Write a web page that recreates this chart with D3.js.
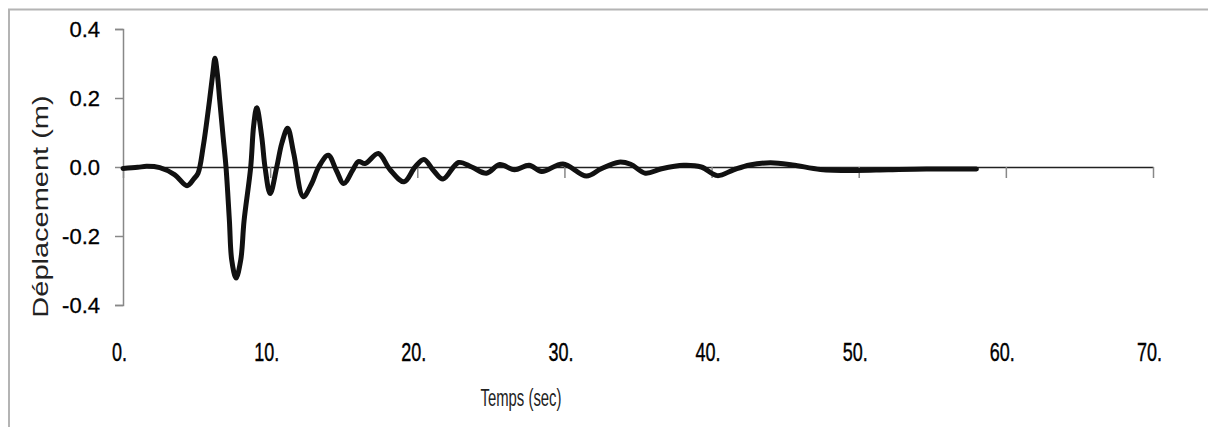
<!DOCTYPE html>
<html>
<head>
<meta charset="utf-8">
<script src="https://cdn.jsdelivr.net/npm/d3@7/dist/d3.min.js"></script>
<style>
  html, body { margin: 0; padding: 0; background: #fff; }
  svg { display: block; }
  .axis text { font-family: 'Liberation Sans', Arial, sans-serif; fill: #000; }
</style>
</head>
<body>
<div id="chart"></div>
<script>
'use strict';

// time (s) and displacement (m)
var times = [0, 1.0, 1.6, 2.5, 3.5, 4.35, 4.8, 5.1, 5.45, 5.87, 6.1, 6.25, 6.41, 6.57, 6.81,
  7.0, 7.23, 7.39, 7.68, 8.0, 8.23, 8.68, 8.88, 9.09, 9.43, 9.65, 10.0, 10.45, 10.8, 11.19,
  11.6, 12.25, 12.8, 13.3, 13.95, 14.5, 15.0, 15.6, 16.0, 16.45, 17.35, 18.15, 19.1, 19.85,
  20.45, 21.1, 21.75, 22.8, 23.7, 24.7, 25.6, 26.6, 27.6, 28.46, 29.9, 31.5, 32.5, 33.7,
  34.5, 35.5, 36.6, 38.1, 39.3, 40.4, 41.5, 42.6, 44.0, 45.5, 47.4, 49.7, 52.0, 54.6, 58.0];
var displacement = [-0.004, -0.001, 0.002, -0.002, -0.022, -0.054, -0.035, -0.018, 0.059,
  0.19, 0.27, 0.315, 0.27, 0.195, 0.085, 0.0, -0.155, -0.27, -0.322, -0.27, -0.155, 0.0,
  0.12, 0.172, 0.087, 0.0, -0.077, 0.0, 0.07, 0.112, 0.04, -0.086, -0.05, 0.0, 0.034,
  -0.01, -0.048, -0.01, 0.016, 0.01, 0.039, -0.008, -0.043, 0.0, 0.022, -0.01, -0.035,
  0.013, 0.0, -0.018, 0.007, -0.008, 0.005, -0.013, 0.009, -0.026, -0.005, 0.014, 0.008,
  -0.018, -0.005, 0.005, 0.0, -0.025, -0.008, 0.006, 0.012, 0.006, -0.007, -0.01, -0.008,
  -0.006, -0.006];

var xTicks = [0, 10, 20, 30, 40, 50, 60, 70];
var yTicks = [-0.4, -0.2, 0.0, 0.2, 0.4];
var xTitle = 'Temps (sec)';
var yTitle = 'Déplacement (m)';

var width = 1208, height = 427;

var svg = d3.select('#chart').append('svg')
  .attr('width', width)
  .attr('height', height);

// chart area border (runs off the right and bottom edges)
svg.append('rect')
  .attr('x', 9)
  .attr('y', 9.5)
  .attr('width', 1400)
  .attr('height', 600)
  .attr('fill', 'none')
  .attr('stroke', '#b4b4b4')
  .attr('stroke-width', 2);

var x = d3.scaleLinear().domain([0, 70]).range([123, 1153]);
var y = d3.scaleLinear().domain([-0.4, 0.4]).range([305, 29]);

var points = times.map(function(t, i) { return [t, displacement[i]]; });
var fmt = d3.format('.1f');

// x axis sits on the zero line, labels far below it
var xAxis = svg.append('g')
  .attr('class', 'axis x-axis')
  .attr('transform', 'translate(0,' + y(0) + ')')
  .call(d3.axisBottom(x)
    .tickValues(xTicks)
    .tickSize(11)
    .tickSizeOuter(0)
    .tickFormat(function(d) { return d + '.'; }));
xAxis.select('.domain').attr('stroke', '#222').attr('stroke-width', 1.5);
xAxis.selectAll('.tick line').attr('stroke', '#888').attr('stroke-width', 1.5);
xAxis.selectAll('.tick text')
  .attr('y', 0)
  .attr('dy', 0)
  .attr('font-size', 25)
  .attr('stroke', '#000')
  .attr('stroke-width', 0.4)
  .attr('transform', 'translate(-4,' + (361 - y(0)) + ') scale(0.72,1)');

var yAxis = svg.append('g')
  .attr('class', 'axis y-axis')
  .attr('transform', 'translate(' + x(0) + ',0)')
  .call(d3.axisLeft(y)
    .tickValues(yTicks)
    .tickSize(8)
    .tickPadding(15)
    .tickFormat(function(d) { return fmt(d).replace('\u2212', '-'); }));
yAxis.select('.domain').attr('stroke', '#888').attr('stroke-width', 1.5);
yAxis.selectAll('.tick line').attr('stroke', '#888').attr('stroke-width', 1.5);
yAxis.selectAll('.tick text')
  .attr('font-size', 22)
  .attr('stroke', '#000')
  .attr('stroke-width', 0.3)
  .attr('dy', '0.36em');

var line = d3.line()
  .x(function(d) { return x(d[0]); })
  .y(function(d) { return y(d[1]); })
  .curve(d3.curveCatmullRom.alpha(0.5));

svg.append('path')
  .datum(points)
  .attr('fill', 'none')
  .attr('stroke', '#111')
  .attr('stroke-width', 5)
  .attr('stroke-linejoin', 'round')
  .attr('stroke-linecap', 'round')
  .attr('d', line);

svg.append('text')
  .attr('transform', 'translate(521,406) scale(0.62,1)')
  .attr('text-anchor', 'middle')
  .attr('font-family', "'Liberation Sans', Arial, sans-serif")
  .attr('font-size', 24)
  .attr('fill', '#222')
  .text(xTitle);

svg.append('text')
  .attr('transform', 'translate(48,206.5) scale(0.75,1) rotate(-90)')
  .attr('text-anchor', 'middle')
  .attr('font-family', "'Liberation Sans', Arial, sans-serif")
  .attr('font-size', 29)
  .attr('fill', '#222')
  .text(yTitle);
</script>
</body>
</html>
